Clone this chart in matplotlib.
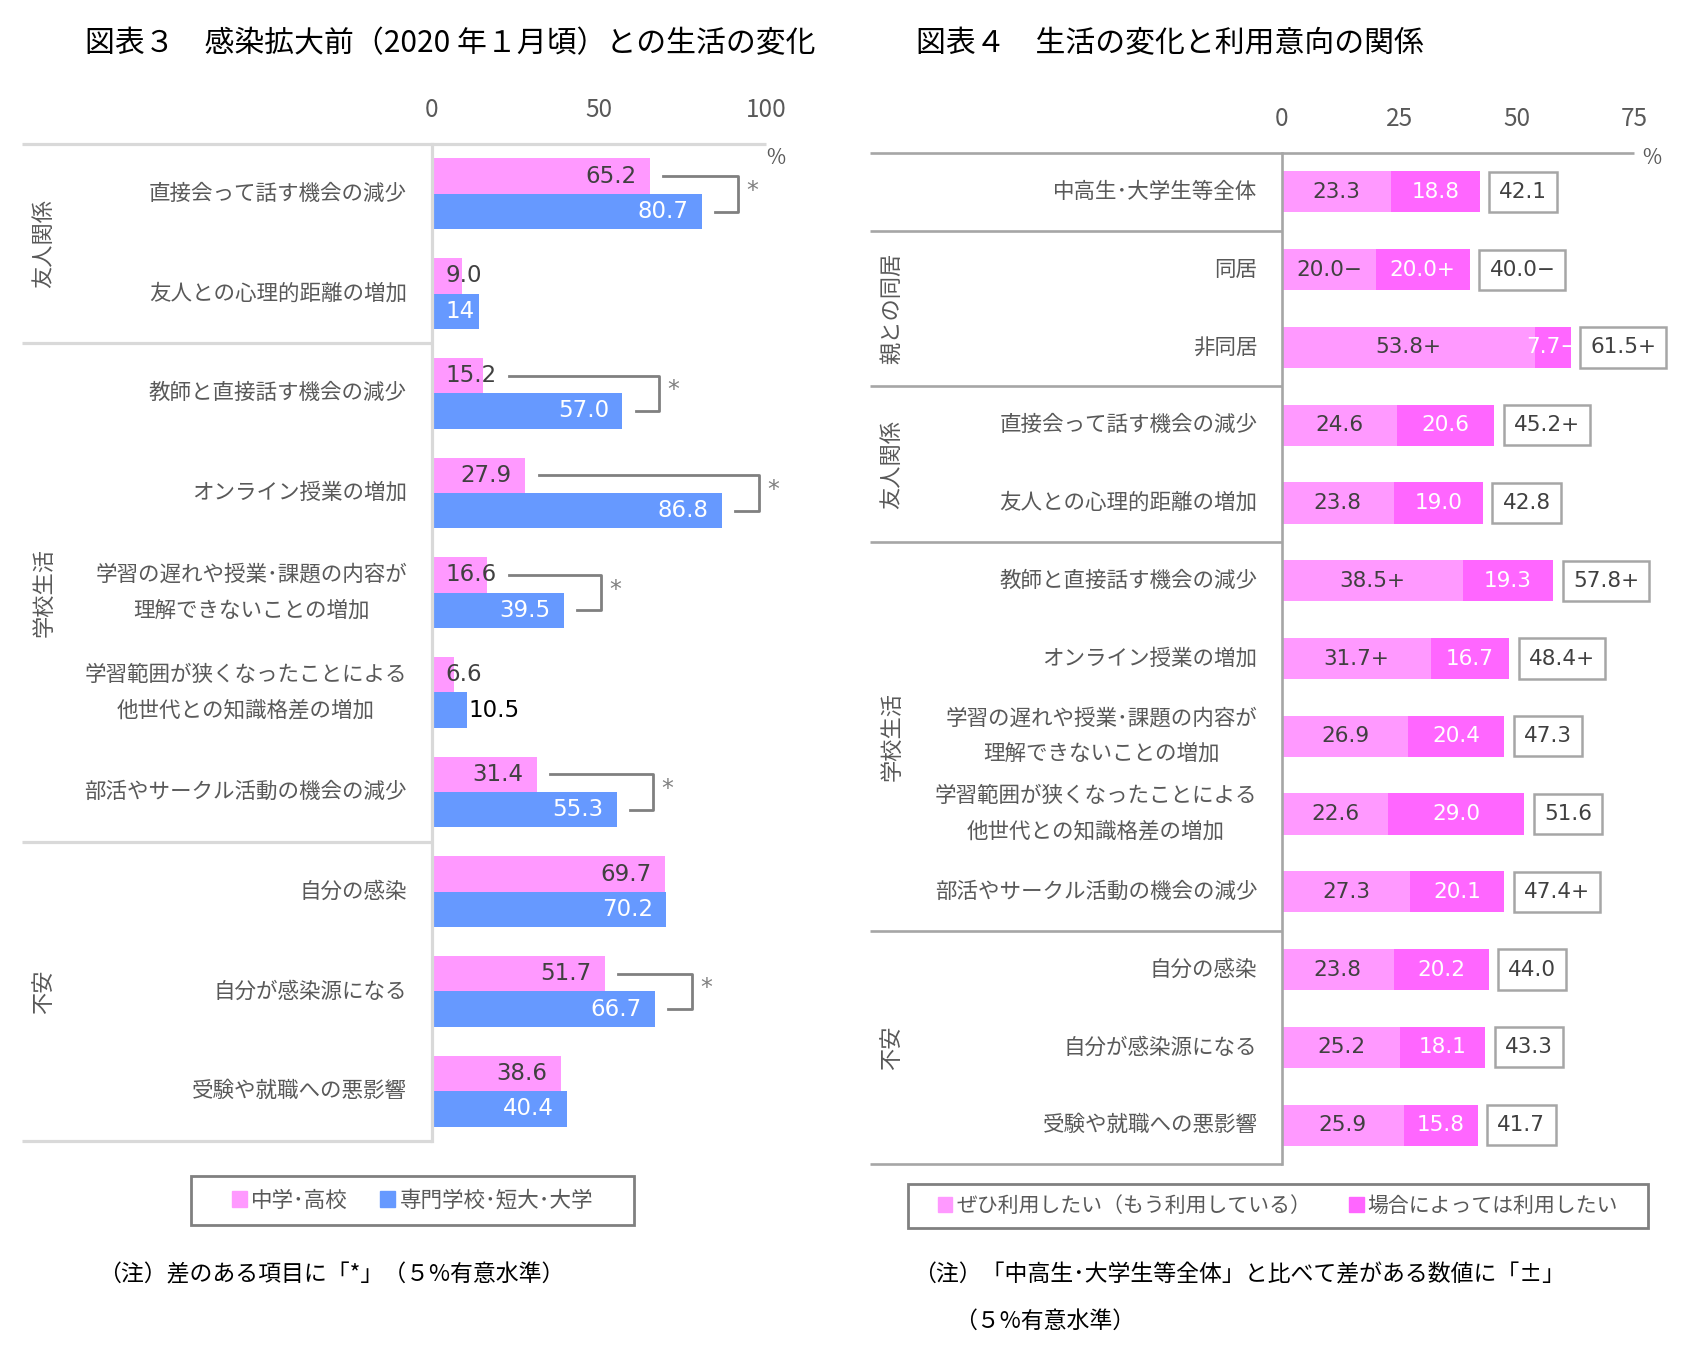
import numpy as np
import matplotlib
matplotlib.use("Agg")
import matplotlib.pyplot as plt
from matplotlib.patches import Patch, Rectangle

plt.rcParams['font.family'] = ['Noto Sans CJK JP', 'DejaVu Sans']

# ---- 図表3 data ----
items3 = ["直接会って話す機会の減少", "友人との心理的距離の増加", "教師と直接話す機会の減少",
          "オンライン授業の増加", "学習の遅れや授業･課題の内容が\n理解できないことの増加",
          "学習範囲が狭くなったことによる\n他世代との知識格差の増加", "部活やサークル活動の機会の減少",
          "自分の感染", "自分が感染源になる", "受験や就職への悪影響"]
groups3 = [("友人関係", 0, 1), ("学校生活", 2, 6), ("不安", 7, 9)]
chukou = [65.2, 9.0, 15.2, 27.9, 16.6, 6.6, 31.4, 69.7, 51.7, 38.6]
chukou_lbl = ["65.2", "9.0", "15.2", "27.9", "16.6", "6.6", "31.4", "69.7", "51.7", "38.6"]
senmon = [80.7, 14, 57.0, 86.8, 39.5, 10.5, 55.3, 70.2, 66.7, 40.4]
senmon_lbl = ["80.7", "14", "57.0", "86.8", "39.5", "10.5", "55.3", "70.2", "66.7", "40.4"]
sig3 = [1, 0, 1, 1, 1, 0, 1, 0, 1, 0]
legend3 = ["中学･高校", "専門学校･短大･大学"]

# ---- 図表4 data ----
items4 = ["中高生･大学生等全体", "同居", "非同居", "直接会って話す機会の減少", "友人との心理的距離の増加",
          "教師と直接話す機会の減少", "オンライン授業の増加",
          "学習の遅れや授業･課題の内容が\n理解できないことの増加",
          "学習範囲が狭くなったことによる\n他世代との知識格差の増加",
          "部活やサークル活動の機会の減少", "自分の感染", "自分が感染源になる", "受験や就職への悪影響"]
groups4 = [("親との同居", 1, 2), ("友人関係", 3, 4), ("学校生活", 5, 9), ("不安", 10, 12)]
zehi = [23.3, 20.0, 53.8, 24.6, 23.8, 38.5, 31.7, 26.9, 22.6, 27.3, 23.8, 25.2, 25.9]
zehi_sign = ["", "−", "+", "", "", "+", "+", "", "", "", "", "", ""]
baai = [18.8, 20.0, 7.7, 20.6, 19.0, 19.3, 16.7, 20.4, 29.0, 20.1, 20.2, 18.1, 15.8]
baai_sign = ["", "+", "−", "", "", "", "", "", "", "", "", "", ""]
goukei = [42.1, 40.0, 61.5, 45.2, 42.8, 57.8, 48.4, 47.3, 51.6, 47.4, 44.0, 43.3, 41.7]
goukei_sign = ["", "−", "+", "+", "", "+", "+", "", "", "+", "", "", ""]
legend4 = ["ぜひ利用したい（もう利用している）", "場合によっては利用したい"]

PINK = "#FF99FF"
BLUE = "#6699FF"
MAG = "#FF66FF"
DARK = "#404040"
GRAY_TXT = "#595959"
NUMFONT = ["DejaVu Sans"]

W, H = 1694, 1346
fig = plt.figure(figsize=(W / 100, H / 100), dpi=100)


def fx(x):
    return x / W


def fy(y):
    return 1 - y / H


def setup(ax, xmax, ticks, lc, lw, left_ext, seps, ytop, ybot):
    ax.set_xlim(0, xmax)
    ax.set_ylim(ybot, ytop)
    ax.xaxis.tick_top()
    ax.set_xticks(ticks)
    ax.tick_params(axis='x', length=0, pad=15, labelsize=17.5, labelcolor=GRAY_TXT)
    ax.set_yticks([])
    for s in ['top', 'right', 'bottom']:
        ax.spines[s].set_visible(False)
    ax.spines['left'].set_color(lc)
    ax.spines['left'].set_linewidth(lw)
    tr = ax.get_yaxis_transform()
    ax.plot([left_ext, 1], [ytop, ytop], transform=tr, color=lc, lw=lw, clip_on=False,
            solid_capstyle='butt')
    for y in seps + [ybot]:
        ax.plot([left_ext, 0], [y, y], transform=tr, color=lc, lw=lw, clip_on=False,
                solid_capstyle='butt')


# ================= 図表3 =================
ax1 = fig.add_axes([fx(432), fy(1141), fx(766) - fx(432), fy(144) - fy(1141)])
setup(ax1, 100, [0, 50, 100], "#D9D9D9", 2.3, -1.228, [1.5, 6.5], -0.5, 9.5)
y3 = np.arange(len(items3))
off, bh = 0.178, 0.355
ax1.barh(y3 - off, chukou, height=bh, color=PINK, label=legend3[0])
ax1.barh(y3 + off, senmon, height=bh, color=BLUE, label=legend3[1])

fs_num = 16.5
for i in range(len(items3)):
    p, b = chukou[i], senmon[i]
    if p >= 20:
        ax1.text(p - 4, i - off, chukou_lbl[i], ha='right', va='center', fontsize=fs_num,
                 color=DARK, family=NUMFONT)
    else:
        ax1.text(4, i - off, chukou_lbl[i], ha='left', va='center', fontsize=fs_num,
                 color=DARK, family=NUMFONT)
    if b >= 20:
        ax1.text(b - 4, i + off, senmon_lbl[i], ha='right', va='center', fontsize=fs_num,
                 color='white', family=NUMFONT)
    elif b >= 12:
        ax1.text(4, i + off, senmon_lbl[i], ha='left', va='center', fontsize=fs_num,
                 color='white', family=NUMFONT)
    else:
        ax1.text(b + 0.5, i + off, senmon_lbl[i], ha='left', va='center', fontsize=fs_num,
                 color='black', family=NUMFONT)
    if sig3[i]:
        top_start = (max(p, 19) if p < 20 else p) + 4
        bx = max(p, b) + 11
        ax1.plot([top_start, bx, bx, b + 4], [i - off, i - off, i + off, i + off],
                 color="#808080", lw=2, clip_on=False)
        ax1.text(bx + 2.5, i - 0.03, "*", ha='left', va='center', fontsize=17,
                 color="#808080", family=NUMFONT)
    ax1.text(-0.075, i, items3[i], transform=ax1.get_yaxis_transform(), ha='right',
             va='center', multialignment='center', fontsize=15.5, color=GRAY_TXT,
             linespacing=1.8)

for name, a, b in groups3:
    ax1.text(-1.162, (a + b) / 2, name, transform=ax1.get_yaxis_transform(), rotation=90,
             ha='center', va='center', fontsize=16, color=GRAY_TXT)
ax1.text(1.03, 0.997, "%", transform=ax1.transAxes, ha='center', va='top', fontsize=15,
         color=GRAY_TXT)

# ================= 図表4 =================
ax2 = fig.add_axes([fx(1282), fy(1164), fx(1634) - fx(1282), fy(153) - fy(1164)])
setup(ax2, 75, [0, 25, 50, 75], "#A6A6A6", 1.9, -1.17, [0.5, 2.5, 4.5, 9.5], -0.5, 12.5)
y4 = np.arange(len(items4))
bh2 = 0.53
ax2.barh(y4, zehi, height=bh2, color=PINK, label=legend4[0])
ax2.barh(y4, baai, left=zehi, height=bh2, color=MAG, label=legend4[1])

fs_num2 = 15.5
for i in range(len(items4)):
    z, k, t = zehi[i], baai[i], goukei[i]
    ax2.text(z / 2, i, f"{z:.1f}{zehi_sign[i]}", ha='center', va='center', fontsize=fs_num2,
             color=DARK, family=NUMFONT)
    ax2.text(z + k / 2, i, f"{k:.1f}{baai_sign[i]}", ha='center', va='center',
             fontsize=fs_num2, color='white', family=NUMFONT)
    ax2.text(z + k + 4.2, i, f"{t:.1f}{goukei_sign[i]}", ha='left', va='center',
             fontsize=fs_num2, color=DARK, family=NUMFONT,
             bbox=dict(boxstyle='square,pad=0.47', fc='white', ec='#A6A6A6', lw=1.8))
    ax2.text(-0.07, i, items4[i], transform=ax2.get_yaxis_transform(), ha='right',
             va='center', multialignment='center', fontsize=15.5, color=GRAY_TXT,
             linespacing=1.8)

for name, a, b in groups4:
    ax2.text(-1.108, (a + b) / 2, name, transform=ax2.get_yaxis_transform(), rotation=90,
             ha='center', va='center', fontsize=16, color=GRAY_TXT)
ax2.text(1.05, 0.995, "%", transform=ax2.transAxes, ha='center', va='center', fontsize=15,
         color=GRAY_TXT)

# ---- titles ----
fig.text(fx(85), fy(44), "図表３　感染拡大前（2020 年１月頃）との生活の変化", ha='left',
         va='center', fontsize=21.5, color='black')
fig.text(fx(916), fy(44), "図表４　生活の変化と利用意向の関係", ha='left', va='center',
         fontsize=21.5, color='black')

# ---- legends ----
fig.patches.append(Rectangle((fx(191), fy(1225)), fx(634) - fx(191), fy(1176) - fy(1225),
                             transform=fig.transFigure, fill=False, ec='#808080', lw=2))
h1 = [Patch(color=PINK), Patch(color=BLUE)]
fig.legend(h1, legend3, loc='center', bbox_to_anchor=((fx(191) + fx(634)) / 2,
           (fy(1176) + fy(1225)) / 2), ncol=2, frameon=False, fontsize=15.5,
           handlelength=0.7, handleheight=0.7, handletextpad=0.2, columnspacing=1.5,
           labelcolor=GRAY_TXT)

fig.patches.append(Rectangle((fx(908), fy(1228)), fx(1648) - fx(908), fy(1184) - fy(1228),
                             transform=fig.transFigure, fill=False, ec='#808080', lw=2))
h2 = [Patch(color=PINK), Patch(color=MAG)]
fig.legend(h2, legend4, loc='center', bbox_to_anchor=((fx(908) + fx(1648)) / 2,
           (fy(1184) + fy(1228)) / 2), ncol=2, frameon=False, fontsize=15,
           handlelength=0.7, handleheight=0.7, handletextpad=0.2, columnspacing=1.8,
           labelcolor=GRAY_TXT)

# ---- notes ----
fig.text(fx(98), fy(1275), "（注）差のある項目に「*」（５%有意水準）", ha='left', va='center',
         fontsize=16.5, color='black')
fig.text(fx(913), fy(1275), "（注）「中高生･大学生等全体」と比べて差がある数値に「±」", ha='left',
         va='center', fontsize=16.5, color='black')
fig.text(fx(954), fy(1321), "（５%有意水準）", ha='left', va='center', fontsize=16.5,
         color='black')

fig.savefig("out.png", dpi=100, facecolor='white')
